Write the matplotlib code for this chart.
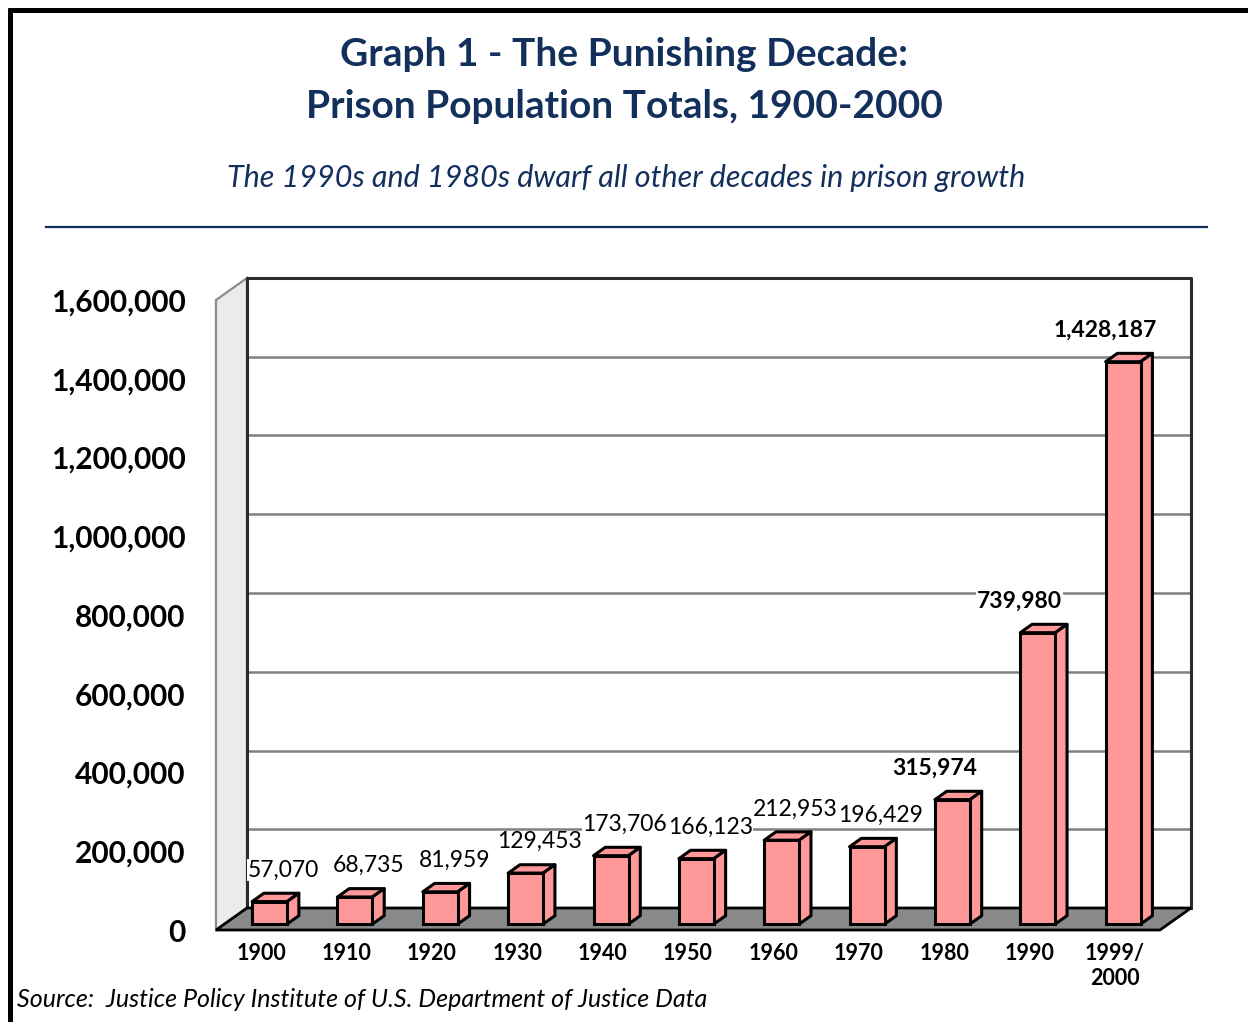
import matplotlib
matplotlib.use('Agg')
import matplotlib.pyplot as plt
from matplotlib.patches import Polygon
from matplotlib.lines import Line2D

# data
decades = ['1900', '1910', '1920', '1930', '1940', '1950', '1960',
           '1970', '1980', '1990', '1999/\n2000']
population = [57070, 68735, 81959, 129453, 173706, 166123, 212953,
              196429, 315974, 739980, 1428187]
y_ticks = [0, 200000, 400000, 600000, 800000, 1000000, 1200000, 1400000, 1600000]

title = 'Graph 1 - The Punishing Decade:\nPrison Population Totals, 1900-2000'
subtitle = 'The 1990s and 1980s dwarf all other decades in prison growth'
source = 'Source:  Justice Policy Institute of U.S. Department of Justice Data'

NAVY = '#13305c'
PINK = '#ff9999'
FONT = 'Lato'

fig = plt.figure(figsize=(12.48, 10.22), dpi=100)

# titles
fig.text(0.5, 0.921, title, ha='center', va='center', fontsize=28,
         fontweight='bold', color=NAVY, family=FONT, linespacing=1.58)
fig.text(0.502, 0.826, subtitle, ha='center', va='center', fontsize=22,
         style='italic', color=NAVY, family=FONT)
fig.add_artist(Line2D([0.037, 0.967], [0.778, 0.778], color=NAVY, lw=1.6,
                      transform=fig.transFigure))
fig.text(0.014, 0.022, source, ha='left', va='center', fontsize=18,
         style='italic', color='black', family=FONT)

# frame lines (top and left)
fig.add_artist(Line2D([0.0065, 1.0], [0.9905, 0.9905], color='black', lw=3.6,
                      transform=fig.transFigure, solid_capstyle='butt'))
fig.add_artist(Line2D([0.0080, 0.0080], [0.0, 0.992], color='black', lw=3.6,
                      transform=fig.transFigure, solid_capstyle='butt'))

# front plane of the chart
ax = fig.add_axes([216 / 1248, 92 / 1022, 944 / 1248, 630 / 1022])
ax.set_facecolor('none')
x0, x1 = -0.53, 10.53
ymax = 1600000
ax.set_xlim(x0, x1)
ax.set_ylim(0, ymax)
for s in ax.spines.values():
    s.set_visible(False)

# depth vector (category units, population units)
DX = 0.363
DY = 22 * ymax / 630

# side wall
ax.add_patch(Polygon([(x0, 0), (x0, ymax), (x0 + DX, ymax + DY), (x0 + DX, DY)],
                     closed=True, fc='#ebebeb', ec='#8c8c8c', lw=1.6,
                     clip_on=False, zorder=1))
# gridlines on back wall
for v in y_ticks[1:-1]:
    ax.plot([x0 + DX, x1 + DX], [v + DY, v + DY], color='#808080', lw=1.8,
            clip_on=False, zorder=1)
# back wall outline
ax.plot([x0 + DX, x0 + DX, x1 + DX, x1 + DX], [DY, ymax + DY, ymax + DY, DY],
        color='#2b2b2b', lw=2.2, clip_on=False, zorder=2)
# floor
ax.add_patch(Polygon([(x0, 0), (x1, 0), (x1 + DX, DY), (x0 + DX, DY)],
                     closed=True, fc='#898989', ec='black', lw=2.0,
                     clip_on=False, zorder=2))

# 3D bars
t0, t1 = 0.27, 0.65
bw = 0.41
xs = [i + t0 * DX for i in range(len(population))]
base = t0 * DY
ddx = (t1 - t0) * DX
ddy = (t1 - t0) * DY
ax.bar(xs, population, width=bw, bottom=base, color=PINK, edgecolor='black',
       linewidth=2.2, zorder=4, clip_on=False)
for xc, v in zip(xs, population):
    l, r = xc - bw / 2, xc + bw / 2
    top = base + v
    ax.add_patch(Polygon([(l, top), (r, top), (r + ddx, top + ddy), (l + ddx, top + ddy)],
                         closed=True, fc=PINK, ec='black', lw=2.2, zorder=3,
                         clip_on=False, joinstyle='round'))
    ax.add_patch(Polygon([(r, base), (r, top), (r + ddx, top + ddy), (r + ddx, base + ddy)],
                         closed=True, fc=PINK, ec='black', lw=2.2, zorder=3,
                         clip_on=False, joinstyle='round'))

# value labels
for i, (xc, v) in enumerate(zip(xs, population)):
    emph = i >= 8
    ax.annotate(f'{v:,}', (xc + ddx / 2, base + v + ddy),
                xytext=(-24 if emph else 8, 23), textcoords='offset pixels',
                ha='center', va='center', fontsize=16.5,
                fontweight='bold' if emph else 'normal', family=FONT,
                bbox=dict(fc='white', ec='none', pad=0.5), zorder=5)

# axes ticks
ax.set_yticks(y_ticks)
ax.set_yticklabels([f'{v:,}' for v in y_ticks], fontsize=21.5, fontweight='bold',
                   family=FONT)
ax.set_xticks(range(len(decades)))
ax.set_xticklabels(decades, fontsize=15.5, fontweight='bold', family=FONT,
                   linespacing=1.25)
ax.tick_params(axis='y', length=0, pad=22)
ax.tick_params(axis='x', length=0, pad=9)

fig.savefig('out.png', dpi=100)
